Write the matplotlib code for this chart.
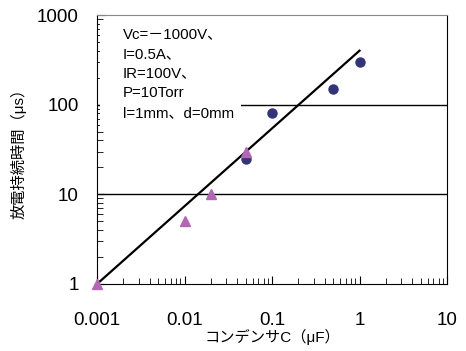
import matplotlib
matplotlib.use("Agg")
import matplotlib.pyplot as plt
from matplotlib.patches import Rectangle

plt.rcParams['font.family'] = ['Liberation Sans', 'Noto Sans CJK JP']

# circles (navy)
circle_x = [0.05, 0.1, 0.5, 1.0]
circle_y = [25, 80, 150, 300]
# triangles (purple)
tri_x = [0.001, 0.01, 0.02, 0.05]
tri_y = [1, 5, 10, 30]
# fitted line
fit_x = [0.001, 1.0]
fit_y = [1, 400]

x_ticks = [0.001, 0.01, 0.1, 1, 10]
x_labels = ["0.001", "0.01", "0.1", "1", "10"]
y_ticks = [1, 10, 100, 1000]
y_labels = ["1", "10", "100", "1000"]

note = "Vc=－1000V、\nI=0.5A、\nIR=100V、\nP=10Torr\nl=1mm、d=0mm"


def main():
    fig = plt.figure(figsize=(4.66, 3.51), dpi=100)
    ax = fig.add_axes([97/466, 1 - 284/351, 350/466, 269/351])
    ax.set_xscale('log')
    ax.set_yscale('log')
    ax.set_xlim(0.001, 10)
    ax.set_ylim(1, 1000)

    # horizontal grid at 10 and 100
    for v in [10, 100]:
        ax.axhline(v, color='black', linewidth=1.0, zorder=1)

    # white box behind the note
    ax.add_patch(Rectangle((0.009, 0.57), 0.403, 0.41, transform=ax.transAxes,
                           facecolor='white', edgecolor='none', zorder=2))
    ax.text(0.074, 0.955, note, transform=ax.transAxes, fontsize=10.8,
            va='top', ha='left', linespacing=1.52, zorder=3)

    ax.plot(fit_x, fit_y, color='black', linewidth=1.6, zorder=4)
    ax.plot(circle_x, circle_y, 'o', color='#333377', markersize=6.5,
            linestyle='none', zorder=5, clip_on=False)
    ax.plot(tri_x, tri_y, '^', color='#b366b3', markersize=7.5,
            linestyle='none', zorder=5, clip_on=False)

    ax.set_xticks(x_ticks)
    ax.set_xticklabels(x_labels)
    ax.set_yticks(y_ticks)
    ax.set_yticklabels(y_labels)
    ax.tick_params(axis='both', which='both', direction='in', labelsize=13.5)
    ax.tick_params(axis='x', which='major', length=6, pad=20)
    ax.tick_params(axis='y', which='major', length=6, pad=13)
    ax.tick_params(axis='both', which='minor', length=4)

    ax.spines['top'].set_color('#888888')
    for s in ['left', 'right', 'bottom']:
        ax.spines[s].set_color('black')

    ax.set_xlabel("コンデンサC（μF）", fontsize=11)
    ax.xaxis.set_label_coords(0.5, -0.168)
    ax.set_ylabel("放電持続時間（μs）", fontsize=11, va='center')
    ax.yaxis.set_label_coords(-0.223, 0.5)

    fig.savefig("out.png", dpi=100, facecolor='white')


if __name__ == "__main__":
    main()
